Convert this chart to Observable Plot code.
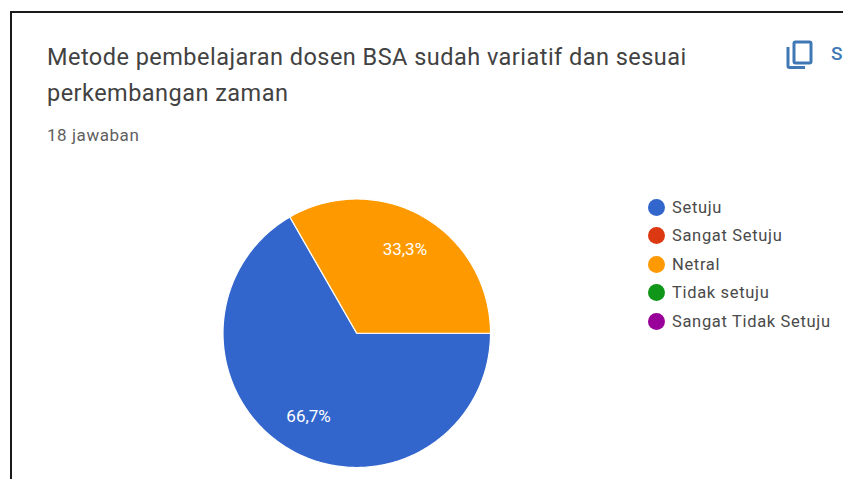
<!DOCTYPE html>
<html lang="id">
<head>
<meta charset="utf-8">
<script src="https://cdn.jsdelivr.net/npm/d3@7"></script>
<script src="https://cdn.jsdelivr.net/npm/@observablehq/plot@0.6"></script>
<style>
  html, body { margin: 0; padding: 0; background: #fff; }
  body { width: 843px; height: 479px; overflow: hidden; position: relative; font-family: Roboto, sans-serif; }
  #frame { position: absolute; left: 10px; top: 11px; width: 860px; height: 500px; border-left: 2px solid #1a1a1a; border-top: 2px solid #1a1a1a; box-sizing: border-box; }
  #title { position: absolute; left: 47px; top: 39px; width: 720px; font-size: 23.5px; line-height: 36px; color: #424242; letter-spacing: 0.47px; white-space: nowrap; }
  #sub { position: absolute; left: 47px; top: 125px; font-size: 17px; line-height: 20px; color: #5f5f5f; letter-spacing: 0.55px; }
  #copy { position: absolute; left: 785px; top: 39px; }
  #salin { position: absolute; left: 831px; top: 42px; font-size: 19px; line-height: 24px; font-weight: 500; color: #3f78b5; }
  #chart { position: absolute; left: 0; top: 170px; }
  #chart svg { display: block; background: transparent; }
  #legend { position: absolute; left: 648px; top: 193px; margin: 0; padding: 0; list-style: none; }
  #legend li { display: flex; align-items: center; height: 28.5px; font-size: 16.5px; color: #4a4a4a; letter-spacing: 0.67px; white-space: nowrap; }
  #legend i { width: 17px; height: 17px; border-radius: 50%; margin-right: 7px; flex: none; }
</style>
</head>
<body>
<div id="frame"></div>
<div id="title">Metode pembelajaran dosen BSA sudah variatif dan sesuai<br>perkembangan zaman</div>
<div id="sub">18 jawaban</div>
<svg id="copy" width="30" height="32" viewBox="0 0 30 32" fill="none" stroke="#3f78b5" stroke-width="3">
  <rect x="9" y="3" width="17" height="21" rx="1.5"></rect>
  <path d="M3 8 V27 a1.5 1.5 0 0 0 1.5 1.5 H20"></path>
</svg>
<div id="salin">Salin</div>
<div id="chart"></div>
<ul id="legend"></ul>
<script>
// Form responses per answer option (18 in total)
const categories = ["Setuju", "Sangat Setuju", "Netral", "Tidak setuju", "Sangat Tidak Setuju"];
const counts = [12, 0, 6, 0, 0];
const colors = ["#3366cc", "#dc3912", "#ff9900", "#109618", "#990099"];

const total = d3.sum(counts);
const labelRadius = 0.72;

// Pie angles run clockwise from three o'clock
const arcs = d3.pie().sort(null).startAngle(Math.PI / 2).endAngle(Math.PI * 2.5)(counts);

// Outline each non-empty slice in unit-circle coordinates
const outline = arcs.filter(a => a.value > 0).flatMap(a => {
  const name = categories[a.index];
  const steps = Math.ceil((a.endAngle - a.startAngle) * 60);
  const rim = d3.range(steps + 1).map(k => {
    const t = a.startAngle + (a.endAngle - a.startAngle) * k / steps;
    return {name, x: Math.sin(t), y: Math.cos(t)};
  });
  return [{name, x: 0, y: 0}, ...rim];
});

const labels = arcs.filter(a => a.value > 0).map(a => {
  const mid = (a.startAngle + a.endAngle) / 2;
  return {
    x: labelRadius * Math.sin(mid),
    y: labelRadius * Math.cos(mid),
    text: (a.value / total * 100).toFixed(1).replace(".", ",") + "%"
  };
});

const plot = Plot.plot({
  width: 843,
  height: 309,
  margin: 0,
  x: {domain: [-1, 1], range: [222.5, 490], axis: null},
  y: {domain: [-1, 1], range: [297, 28.5], axis: null},
  color: {domain: categories, range: colors},
  style: {background: "transparent"},
  marks: [
    Plot.line(outline, {
      x: "x", y: "y", z: "name", fill: "name",
      stroke: "#fff", strokeWidth: 1.2, curve: "linear-closed"
    }),
    Plot.text(labels, {
      x: "x", y: "y", text: "text",
      fill: "#fff", fontSize: 17, fontFamily: "Roboto, sans-serif"
    })
  ]
});
document.getElementById("chart").append(plot);

// Legend lists every option, including the ones with no responses
const legend = d3.select("#legend").selectAll("li").data(categories).join("li");
legend.append("i").style("background", (d, i) => colors[i]);
legend.append("span").text(d => d);
</script>
</body>
</html>
